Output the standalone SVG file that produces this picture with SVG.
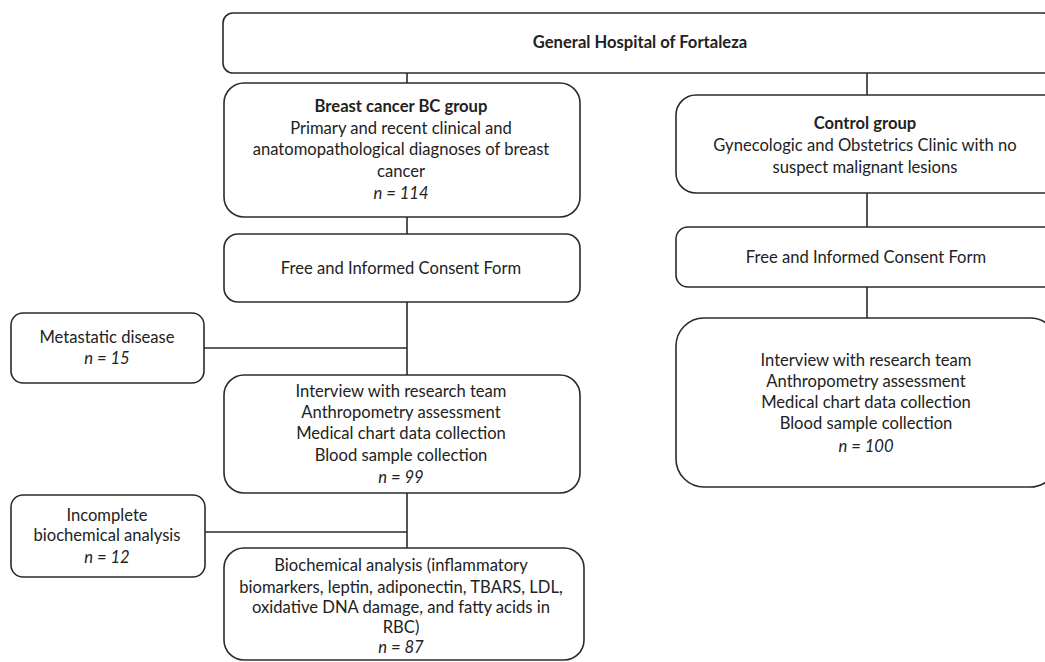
<svg xmlns="http://www.w3.org/2000/svg" width="1045" height="662" viewBox="0 0 1045 662">
<style>
.box{fill:#fff;stroke:#2b2b2b;stroke-width:1.6}
.t{font-family:Lato,"Open Sans","Liberation Sans",sans-serif;font-size:16.6px;fill:#222;text-anchor:middle}
.b{font-weight:bold}
.i{font-style:italic}
.ln{stroke:#2b2b2b;stroke-width:1.6;fill:none}
</style>
<rect width="1045" height="662" fill="#fff"/>
<g id="connectors">
<path class="ln" d="M407 73V83M407 217V234M407 302V375M407 493V548M204 348H407M205 532H407M867 73V95M867 193V227M867 287V318"/>
</g>
<g id="hospital">
<rect class="box" x="223" y="13" width="830" height="60" rx="10"/>
<text class="t b" x="640" y="48">General Hospital of Fortaleza</text>
</g>
<g id="bc-group">
<rect class="box" x="224" y="83" width="356" height="134" rx="20"/>
<text class="t b" x="401" y="112">Breast cancer BC group</text>
<text class="t" x="401" y="134">Primary and recent clinical and</text>
<text class="t" x="401" y="155">anatomopathological diagnoses of breast</text>
<text class="t" x="401" y="177">cancer</text>
<text class="t i" x="401" y="199">n = 114</text>
</g>
<g id="consent-left">
<rect class="box" x="224" y="234" width="356" height="68" rx="14"/>
<text class="t" x="401" y="274">Free and Informed Consent Form</text>
</g>
<g id="metastatic">
<rect class="box" x="11" y="313" width="193" height="70" rx="12"/>
<text class="t" x="107" y="343">Metastatic disease</text>
<text class="t i" x="107" y="364">n = 15</text>
</g>
<g id="interview-left">
<rect class="box" x="224" y="375" width="356" height="118" rx="20"/>
<text class="t" x="401" y="397">Interview with research team</text>
<text class="t" x="401" y="418">Anthropometry assessment</text>
<text class="t" x="401" y="439">Medical chart data collection</text>
<text class="t" x="401" y="461">Blood sample collection</text>
<text class="t i" x="401" y="483">n = 99</text>
</g>
<g id="incomplete">
<rect class="box" x="11" y="495" width="194" height="82" rx="12"/>
<text class="t" x="107" y="521">Incomplete</text>
<text class="t" x="107" y="541">biochemical analysis</text>
<text class="t i" x="107" y="563">n = 12</text>
</g>
<g id="biochemical">
<rect class="box" x="224" y="548" width="360" height="112" rx="20"/>
<text class="t" x="401" y="571">Biochemical analysis (inflammatory</text>
<text class="t" x="401" y="593">biomarkers, leptin, adiponectin, TBARS, LDL,</text>
<text class="t" x="401" y="613">oxidative DNA damage, and fatty acids in</text>
<text class="t" x="401" y="633">RBC)</text>
<text class="t i" x="401" y="653">n = 87</text>
</g>
<g id="control-group">
<rect class="box" x="676" y="95" width="390" height="98" rx="20"/>
<text class="t b" x="865" y="129">Control group</text>
<text class="t" x="865" y="151">Gynecologic and Obstetrics Clinic with no</text>
<text class="t" x="865" y="173">suspect malignant lesions</text>
</g>
<g id="consent-right">
<rect class="box" x="676" y="227" width="390" height="60" rx="12"/>
<text class="t" x="866" y="263">Free and Informed Consent Form</text>
</g>
<g id="interview-right">
<rect class="box" x="676" y="318" width="382" height="169" rx="28"/>
<text class="t" x="866" y="366">Interview with research team</text>
<text class="t" x="866" y="387">Anthropometry assessment</text>
<text class="t" x="866" y="408">Medical chart data collection</text>
<text class="t" x="866" y="429">Blood sample collection</text>
<text class="t i" x="866" y="452">n = 100</text>
</g>
</svg>
